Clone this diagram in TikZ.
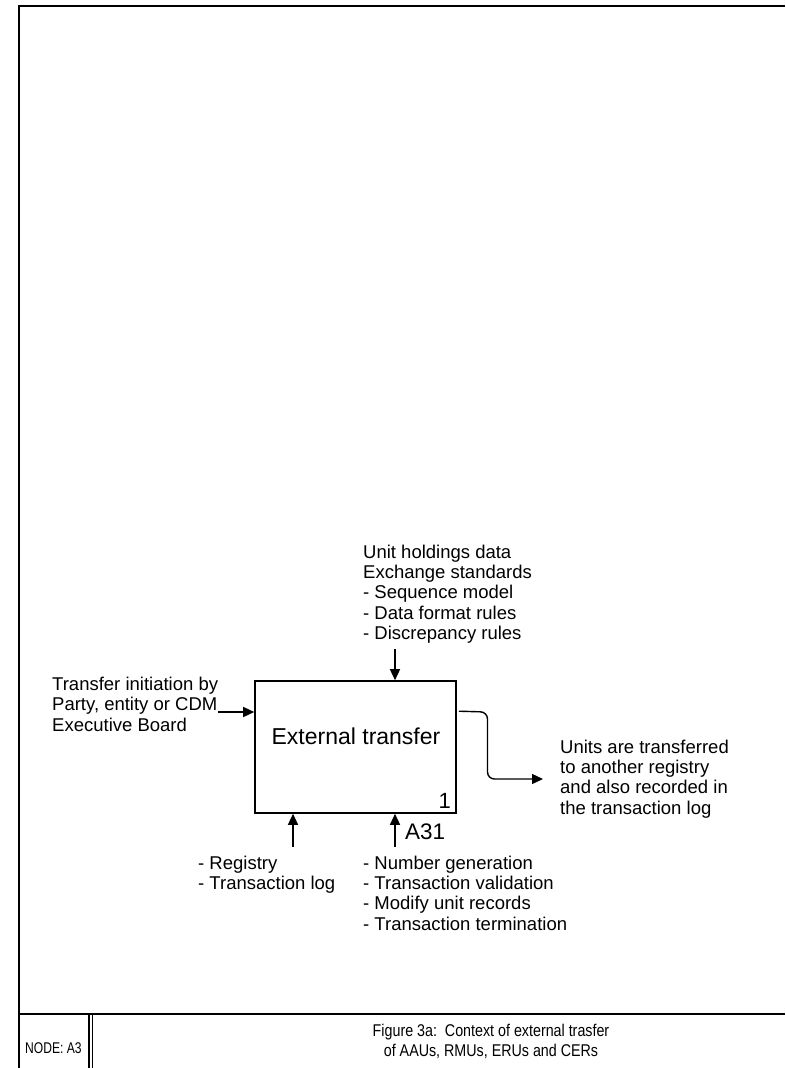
\documentclass[tikz,border=0pt]{standalone}
\usepackage{fontspec}
\setmainfont{Liberation Sans}
\newfontfamily\footfont[FakeStretch=0.84]{Liberation Sans}
\newfontfamily\idfont[FakeStretch=0.78]{Liberation Sans}
\usetikzlibrary{arrows.meta,calc}
\begin{document}
\begin{tikzpicture}[x=1pt,y=-1pt,
  frame/.style={line width=2.2pt},
  rule/.style={line width=1.5pt},
  arr/.style={line width=1.4pt,-{Triangle[length=11pt,width=10pt]}},
  lbl/.style={font=\fontsize{18.5}{20.3}\selectfont,align=left,inner sep=0pt,anchor=north west},
  activity/.style={draw,line width=1.6pt,minimum width=201pt,minimum height=132pt,inner sep=0pt}]
\useasboundingbox (0,0) rectangle (785,1068);

% sheet frame and footer
\draw[frame] (19,1068) -- (19,6) -- (785,6);
\draw[rule] (19,1014) -- (785,1014);
\draw[line width=1.2pt] (89,1014) -- (89,1068);
\draw[line width=1.2pt] (92.5,1014) -- (92.5,1068);
\node[font=\idfont\fontsize{15.5}{15.5}\selectfont,anchor=base west,inner sep=0pt] (nodeid) at (25,1053.5) {NODE: A3};
\node[font=\footfont\fontsize{17}{20}\selectfont,align=center,anchor=north,inner sep=0pt] (title) at (491,1024)
  {Figure 3a:\ \ Context of external trasfer\\of AAUs, RMUs, ERUs and CERs};

% activity box
\node[activity] (box) at (355.5,747) {};
\node[font=\fontsize{23}{23}\selectfont,anchor=base,inner sep=0pt] (boxname) at (356,744) {External transfer};
\node[font=\fontsize{22}{22}\selectfont,anchor=base east,inner sep=0pt] (boxnum) at (451,808) {1};

% labels
\node[lbl] (ctrl) at (363,544.5) {Unit holdings data\\Exchange standards\\- Sequence model\\- Data format rules\\- Discrepancy rules};
\node[lbl] (input) at (52,677) {Transfer initiation by\\Party, entity or CDM\\Executive Board};
\node[lbl] (output) at (560,739.5) {Units are transferred\\to another registry\\and also recorded in\\the transaction log};
\node[lbl] (mech1) at (198,855.6) {- Registry\\- Transaction log};
\node[lbl] (mech2) at (363,855.6) {- Number generation\\- Transaction validation\\- Modify unit records\\- Transaction termination};
\node[font=\fontsize{22.5}{22.5}\selectfont,anchor=base west,inner sep=0pt] (ref) at (405,839) {A31};

% arrow tails
\coordinate (ctrlT) at (395,649);
\coordinate (inT) at (218,712);
\coordinate (m1T) at (293,847);
\coordinate (m2T) at (395,847);
\coordinate (outE) at (543,779);

% connectors
\draw[arr] (ctrlT) -- (ctrlT |- box.north);
\draw[arr] (inT) -- (inT -| box.west);
\draw[arr] (m1T) -- (m1T |- box.south);
\draw[arr] (m2T) -- (m2T |- box.south);
\draw[arr,rounded corners=7pt] ($(box.north east)+(2,31)$) -- (487.5,712) -- (487.5,779) -- (outE);
\end{tikzpicture}
\end{document}
